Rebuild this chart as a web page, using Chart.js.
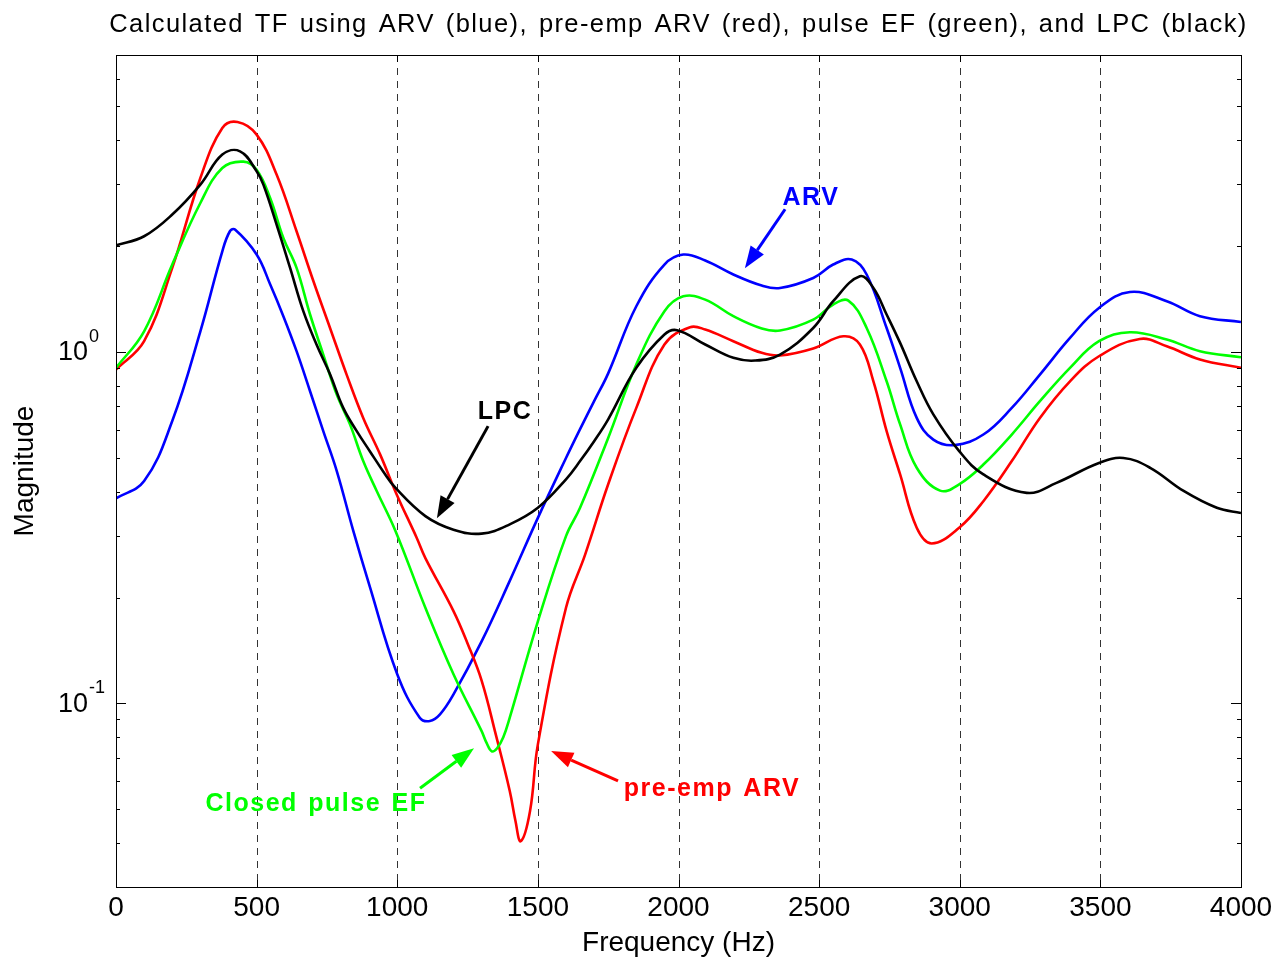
<!DOCTYPE html>
<html>
<head>
<meta charset="utf-8">
<script src="https://cdn.jsdelivr.net/npm/chart.js@4.4.0/dist/chart.umd.min.js"></script>
<style>
  html, body { margin: 0; padding: 0; background: #fff; }
  canvas { display: block; }
</style>
</head>
<body>
<canvas id="tfChart" width="1286" height="961"></canvas>
<script>
// frequency (Hz) / magnitude pairs
var freqBlue = [0, 100, 200, 300, 378, 405, 423, 500, 548, 595, 642, 690, 737, 785, 844, 900, 1000, 1080, 1116, 1152, 1200, 1300, 1400, 1500, 1600, 1650, 1700, 1750, 1850, 1950, 2017, 2095, 2195, 2296, 2361, 2479, 2550, 2616, 2669, 2740, 2788, 2847, 2906, 2983, 3084, 3185, 3285, 3392, 3495, 3605, 3736, 3854, 4000];
var magBlue = [0.383, 0.429, 0.636, 1.145, 1.934, 2.205, 2.23, 1.893, 1.558, 1.264, 1.005, 0.773, 0.595, 0.458, 0.309, 0.218, 0.121, 0.091, 0.089, 0.093, 0.106, 0.150, 0.223, 0.337, 0.499, 0.603, 0.724, 0.869, 1.349, 1.773, 1.893, 1.820, 1.661, 1.545, 1.521, 1.624, 1.773, 1.832, 1.661, 1.170, 0.901, 0.649, 0.563, 0.543, 0.582, 0.693, 0.862, 1.096, 1.334, 1.481, 1.394, 1.264, 1.217];

var freqRed = [0, 100, 200, 300, 378, 432, 500, 571, 642, 702, 761, 820, 879, 939, 998, 1069, 1100, 1200, 1250, 1300, 1350, 1400, 1420, 1439, 1472, 1500, 1600, 1668, 1750, 1850, 1950, 2041, 2095, 2195, 2296, 2361, 2479, 2586, 2645, 2693, 2740, 2788, 2847, 2900, 2998, 3084, 3185, 3285, 3392, 3495, 3640, 3736, 3854, 4000];
var magRed = [0.891, 1.073, 1.734, 3.126, 4.338, 4.512, 4.154, 3.197, 2.205, 1.589, 1.170, 0.862, 0.649, 0.511, 0.393, 0.296, 0.259, 0.183, 0.148, 0.116, 0.0817, 0.0563, 0.0464, 0.0405, 0.0493, 0.0764, 0.187, 0.265, 0.420, 0.693, 1.050, 1.176, 1.158, 1.073, 0.994, 0.977, 1.023, 1.108, 1.050, 0.825, 0.595, 0.448, 0.316, 0.285, 0.316, 0.376, 0.489, 0.649, 0.825, 0.972, 1.089, 1.038, 0.952, 0.901];

var freqGreen = [0, 100, 200, 300, 378, 453, 500, 548, 595, 642, 690, 737, 785, 832, 879, 927, 994, 1100, 1200, 1300, 1318, 1336, 1355, 1377, 1400, 1500, 1600, 1650, 1750, 1850, 1950, 2017, 2095, 2195, 2296, 2361, 2479, 2550, 2604, 2669, 2740, 2788, 2847, 2930, 2998, 3084, 3185, 3285, 3392, 3495, 3605, 3736, 3854, 4000];
var magGreen = [0.901, 1.145, 1.773, 2.654, 3.338, 3.48, 3.30, 2.742, 2.11, 1.734, 1.278, 0.983, 0.756, 0.622, 0.489, 0.402, 0.309, 0.187, 0.121, 0.0833, 0.0770, 0.0730, 0.0745, 0.080, 0.091, 0.171, 0.299, 0.360, 0.569, 0.921, 1.306, 1.440, 1.409, 1.264, 1.166, 1.151, 1.236, 1.364, 1.400, 1.170, 0.825, 0.622, 0.468, 0.403, 0.420, 0.478, 0.582, 0.724, 0.901, 1.073, 1.138, 1.085, 1.005, 0.966];

var freqBlack = [0, 100, 200, 300, 378, 441, 500, 524, 571, 619, 666, 713, 761, 808, 856, 903, 950, 994, 1100, 1200, 1300, 1400, 1500, 1600, 1650, 1700, 1750, 1850, 1950, 1995, 2095, 2195, 2272, 2361, 2479, 2550, 2645, 2693, 2740, 2788, 2847, 2906, 2998, 3084, 3238, 3344, 3495, 3582, 3677, 3796, 3914, 4000];
var magBlack = [2.012, 2.134, 2.460, 2.994, 3.644, 3.724, 3.27, 2.994, 2.304, 1.734, 1.306, 1.05, 0.864, 0.693, 0.595, 0.521, 0.457, 0.41, 0.341, 0.312, 0.304, 0.323, 0.360, 0.434, 0.489, 0.557, 0.643, 0.901, 1.121, 1.153, 1.050, 0.962, 0.945, 0.983, 1.170, 1.394, 1.642, 1.521, 1.278, 1.061, 0.825, 0.664, 0.522, 0.448, 0.397, 0.424, 0.483, 0.499, 0.468, 0.402, 0.360, 0.348];

// axis ticks
var xTicks = [0, 500, 1000, 1500, 2000, 2500, 3000, 3500, 4000];
var yLabelTicks = [0.1, 1];
var yMinorTicks = [0.03, 0.04, 0.05, 0.06, 0.07, 0.08, 0.09, 0.2, 0.3, 0.4, 0.5, 0.6, 0.7, 0.8, 0.9, 2, 3, 4, 5, 6, 7];

// annotations: text, colour, text position, arrow start, arrow tip (data coords)
var annoText = ['ARV', 'LPC', 'Closed pulse EF', 'pre-emp ARV'];
var annoColor = ['#0000ff', '#000000', '#00ff00', '#ff0000'];
var annoTextAt = [[2471, 2.737], [1383, 0.674], [711, 0.0516], [2119, 0.0570]];
var annoFrom = [[2379, 2.547], [1323, 0.615], [1081, 0.0573], [1785, 0.0601]];
var annoTip = [[2236, 1.730], [1141, 0.336], [1273, 0.0745], [1547, 0.0731]];

var titleText = 'Calculated TF using ARV (blue), pre-emp ARV (red), pulse EF (green), and LPC (black)';
var FONT = '"Liberation Sans", Arial, sans-serif';

function pairs(xs, ys) {
  return xs.map(function(x, i) { return { x: x, y: ys[i] }; });
}

function line(label, xs, ys, color, order) {
  return {
    label: label,
    data: pairs(xs, ys),
    borderColor: color,
    backgroundColor: color,
    borderWidth: 2.6,
    pointRadius: 0,
    fill: false,
    tension: 0.4,
    order: order
  };
}

// matlab-like box, inward ticks, dashed grid, superscript labels, arrows
var matlabAxes = {
  id: 'matlabAxes',
  beforeDatasetsDraw: function(chart) {
    var ctx = chart.ctx, a = chart.chartArea, xs = chart.scales.x;
    ctx.save();
    ctx.strokeStyle = '#333';
    ctx.lineWidth = 1;
    ctx.setLineDash([7, 6]);
    xTicks.forEach(function(v) {
      if (v === xTicks[0] || v === xTicks[xTicks.length - 1]) return;
      var px = Math.round(xs.getPixelForValue(v)) + 0.5;
      ctx.beginPath();
      ctx.moveTo(px, a.top);
      ctx.lineTo(px, a.bottom);
      ctx.stroke();
    });
    ctx.restore();
  },
  afterDatasetsDraw: function(chart) {
    var ctx = chart.ctx, a = chart.chartArea, xs = chart.scales.x, ys = chart.scales.y;
    ctx.save();
    ctx.strokeStyle = '#000';
    ctx.lineWidth = 1;
    ctx.strokeRect(Math.round(a.left) + 0.5, Math.round(a.top) + 0.5,
      Math.round(a.right - a.left), Math.round(a.bottom - a.top));

    ctx.beginPath();
    xTicks.forEach(function(v) {
      var px = Math.round(xs.getPixelForValue(v)) + 0.5;
      ctx.moveTo(px, a.bottom); ctx.lineTo(px, a.bottom - 7);
      ctx.moveTo(px, a.top); ctx.lineTo(px, a.top + 7);
    });
    yMinorTicks.forEach(function(v) {
      var py = Math.round(ys.getPixelForValue(v)) + 0.5;
      ctx.moveTo(a.left, py); ctx.lineTo(a.left + 4, py);
      ctx.moveTo(a.right, py); ctx.lineTo(a.right - 4, py);
    });
    yLabelTicks.forEach(function(v) {
      var py = Math.round(ys.getPixelForValue(v)) + 0.5;
      ctx.moveTo(a.left, py); ctx.lineTo(a.left + 10, py);
      ctx.moveTo(a.right, py); ctx.lineTo(a.right - 10, py);
    });
    ctx.stroke();

    // y labels as 10^n
    ctx.fillStyle = '#000';
    ctx.textBaseline = 'middle';
    yLabelTicks.forEach(function(v) {
      var py = ys.getPixelForValue(v);
      var ex = String(Math.round(Math.log10(v)));
      ctx.font = '27px ' + FONT;
      ctx.textAlign = 'right';
      ctx.fillText('10', a.left - 28, py + 1);
      ctx.font = '18px ' + FONT;
      ctx.textAlign = 'left';
      ctx.fillText(ex, a.left - 27, py - 15);
    });

    // annotations
    for (var i = 0; i < annoText.length; i++) {
      var tx = xs.getPixelForValue(annoTextAt[i][0]), ty = ys.getPixelForValue(annoTextAt[i][1]);
      var fx = xs.getPixelForValue(annoFrom[i][0]), fy = ys.getPixelForValue(annoFrom[i][1]);
      var hx = xs.getPixelForValue(annoTip[i][0]), hy = ys.getPixelForValue(annoTip[i][1]);
      var ang = Math.atan2(hy - fy, hx - fx);
      var hl = 22, hw = 8;
      var bx = hx - hl * Math.cos(ang), by = hy - hl * Math.sin(ang);
      ctx.strokeStyle = annoColor[i];
      ctx.fillStyle = annoColor[i];
      ctx.lineWidth = 3;
      ctx.beginPath();
      ctx.moveTo(fx, fy);
      ctx.lineTo(bx, by);
      ctx.stroke();
      ctx.beginPath();
      ctx.moveTo(hx, hy);
      ctx.lineTo(bx + hw * Math.sin(ang), by - hw * Math.cos(ang));
      ctx.lineTo(bx - hw * Math.sin(ang), by + hw * Math.cos(ang));
      ctx.closePath();
      ctx.fill();
      ctx.font = 'bold 25px ' + FONT;
      ctx.letterSpacing = '1.5px';
      ctx.wordSpacing = '2px';
      ctx.textAlign = 'center';
      ctx.textBaseline = 'middle';
      ctx.fillText(annoText[i], tx, ty);
    }

    // title centred over the axes
    ctx.fillStyle = '#000';
    ctx.font = '25.5px ' + FONT;
    ctx.letterSpacing = '1.4px';
    ctx.wordSpacing = '2.5px';
    ctx.textAlign = 'center';
    ctx.textBaseline = 'middle';
    ctx.fillText(titleText, (a.left + a.right) / 2, 25);
    ctx.letterSpacing = '0px';
    ctx.wordSpacing = '0px';
    ctx.restore();
  }
};

var ctx = document.getElementById('tfChart').getContext('2d');
var tfChart = new Chart(ctx, {
  type: 'line',
  data: {
    datasets: [
      line('ARV', freqBlue, magBlue, '#0000ff', 3),
      line('pre-emp ARV', freqRed, magRed, '#ff0000', 2),
      line('pulse EF', freqGreen, magGreen, '#00ff00', 1),
      line('LPC', freqBlack, magBlack, '#000000', 0)
    ]
  },
  options: {
    responsive: false,
    animation: false,
    devicePixelRatio: 1,
    layout: { padding: { top: 55, right: 45, left: 0, bottom: 0 } },
    plugins: {
      legend: { display: false },
      tooltip: { enabled: false }
    },
    scales: {
      x: {
        type: 'linear',
        min: 0,
        max: 4000,
        afterBuildTicks: function(s) { s.ticks = xTicks.map(function(v) { return { value: v }; }); },
        afterFit: function(s) { s.height = 74; },
        ticks: {
          color: '#000',
          font: { family: FONT, size: 28 },
          padding: 4,
          maxRotation: 0,
          callback: function(v) { return String(v); }
        },
        grid: { display: false, drawTicks: false },
        border: { display: false },
        title: {
          display: true,
          text: 'Frequency (Hz)',
          color: '#000',
          font: { family: FONT, size: 28 },
          padding: { top: 0, bottom: 1 }
        }
      },
      y: {
        type: 'logarithmic',
        min: 0.03,
        max: 7,
        afterFit: function(s) { s.width = 116; },
        ticks: { display: false },
        grid: { display: false, drawTicks: false },
        border: { display: false },
        title: {
          display: true,
          text: 'Magnitude',
          color: '#000',
          font: { family: FONT, size: 28 },
          padding: { top: 8, bottom: 0 }
        }
      }
    }
  },
  plugins: [matlabAxes]
});
</script>
</body>
</html>
